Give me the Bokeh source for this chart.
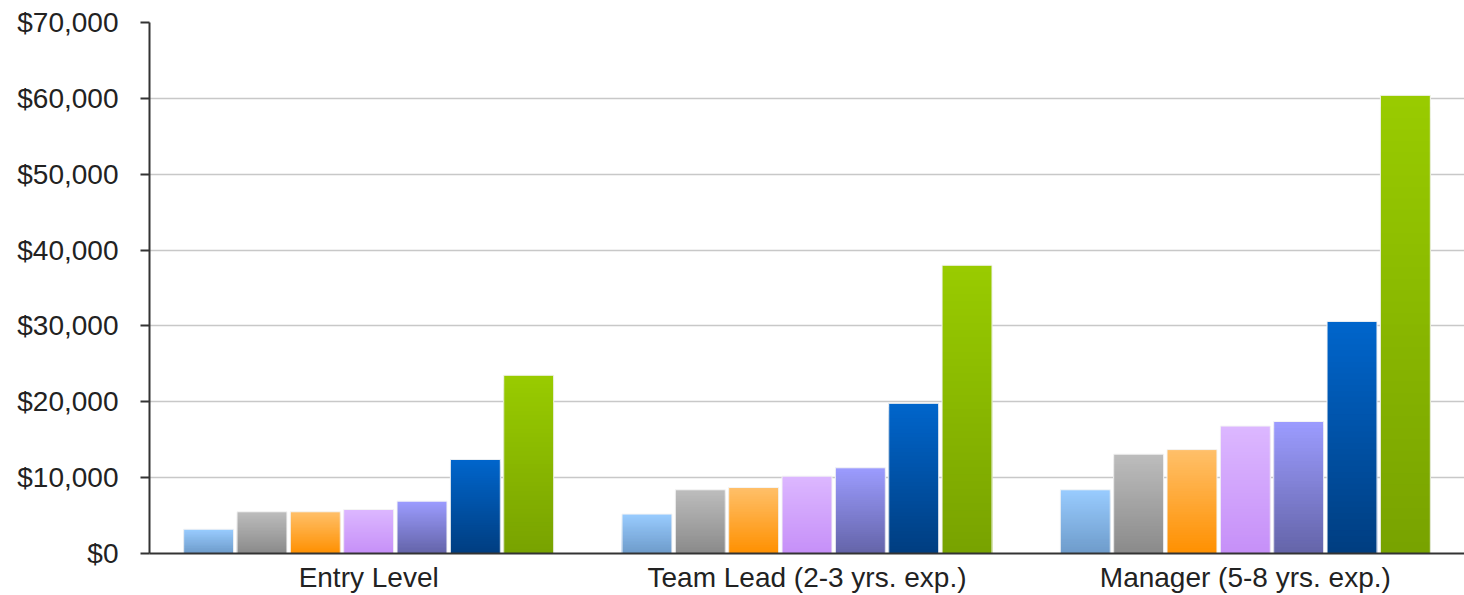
import numpy as np
from bokeh.plotting import figure
from bokeh.models import ColumnDataSource, FactorRange, Range1d, NumeralTickFormatter, SingleIntervalTicker
from bokeh.transform import dodge
from bokeh.embed import file_html
from bokeh.resources import INLINE

categories = ["Entry Level", "Team Lead (2-3 yrs. exp.)", "Manager (5-8 yrs. exp.)"]
series_1 = [3200, 5200, 8400]
series_2 = [5500, 8400, 13100]
series_3 = [5500, 8700, 13700]
series_4 = [5800, 10200, 16800]
series_5 = [6900, 11300, 17400]
series_6 = [12400, 19800, 30600]
series_7 = [23500, 38000, 60400]
all_series = [series_1, series_2, series_3, series_4, series_5, series_6, series_7]

# gradient colours (top, bottom)
grad = [
    ("#99ccff", "#6e9bca"),
    ("#bdbdbd", "#8a8a8a"),
    ("#ffc06a", "#ff9000"),
    ("#dcb8ff", "#c68ff8"),
    ("#9c9cff", "#6464a8"),
    ("#0066cc", "#003d80"),
    ("#99cc00", "#78a200"),
]

def hex2rgb(h):
    h = h.lstrip("#")
    return np.array([int(h[i:i + 2], 16) for i in (0, 2, 4)], dtype=float)

def mix(top, bot, t):
    c = hex2rgb(bot) * (1 - t) + hex2rgb(top) * t
    return "#%02x%02x%02x" % tuple(int(round(v)) for v in c)

p = figure(
    x_range=FactorRange(factors=categories, range_padding=0),
    y_range=Range1d(0, 70000),
    frame_width=1315, frame_height=531,
    min_border_left=149, min_border_top=22, min_border_right=0, min_border_bottom=40,
    output_backend="svg", toolbar_location=None,
)
p.outline_line_color = None
p.background_fill_color = "white"
p.border_fill_color = "white"

step = 0.1217
width = 0.114
N = 40
for j, (vals, (ctop, cbot)) in enumerate(zip(all_series, grad)):
    off = (j - 3) * step
    xs, tops, cols = [], [], []
    for k in range(N, 0, -1):
        t = (k - 0.5) / N
        col = mix(ctop, cbot, t)
        for c, v in zip(categories, vals):
            xs.append(c)
            tops.append(v * k / N)
            cols.append(col)
    src = ColumnDataSource(dict(x=xs, top=tops, color=cols))
    p.vbar(x=dodge("x", off, range=p.x_range), top="top", bottom=0, width=width,
           source=src, fill_color="color", line_color=None)
    osrc = ColumnDataSource(dict(x=categories, top=vals))
    p.vbar(x=dodge("x", off, range=p.x_range), top="top", bottom=0, width=width,
           source=osrc, fill_color=None, line_color="#f4f4f4", line_width=1)

font = "Liberation Sans"
p.yaxis.ticker = SingleIntervalTicker(interval=10000)
p.yaxis.formatter = NumeralTickFormatter(format="$0,0")
p.yaxis.minor_tick_line_color = None
p.yaxis.major_tick_out = 9
p.yaxis.major_tick_in = 0
p.yaxis.major_label_standoff = 22
p.yaxis.axis_line_width = 2
p.yaxis.axis_line_color = "#333333"
p.yaxis.major_tick_line_width = 2
p.yaxis.major_tick_line_color = "#333333"
p.yaxis.major_label_text_font = font
p.yaxis.major_label_text_font_size = "28px"
p.yaxis.major_label_text_color = "#222222"

p.xaxis.major_tick_line_color = None
p.xaxis.minor_tick_line_color = None
p.xaxis.major_tick_out = 0
p.xaxis.major_tick_in = 0
p.xaxis.major_label_standoff = 8
p.xaxis.axis_line_width = 2
p.xaxis.axis_line_color = "#333333"
p.xaxis.major_label_text_font = font
p.xaxis.major_label_text_font_size = "28px"
p.xaxis.major_label_text_color = "#222222"

p.xgrid.grid_line_color = None
p.ygrid.grid_line_color = "#c8c8c8"
p.ygrid.grid_line_width = 1.5

open("out.html", "w").write(file_html(p, INLINE))
